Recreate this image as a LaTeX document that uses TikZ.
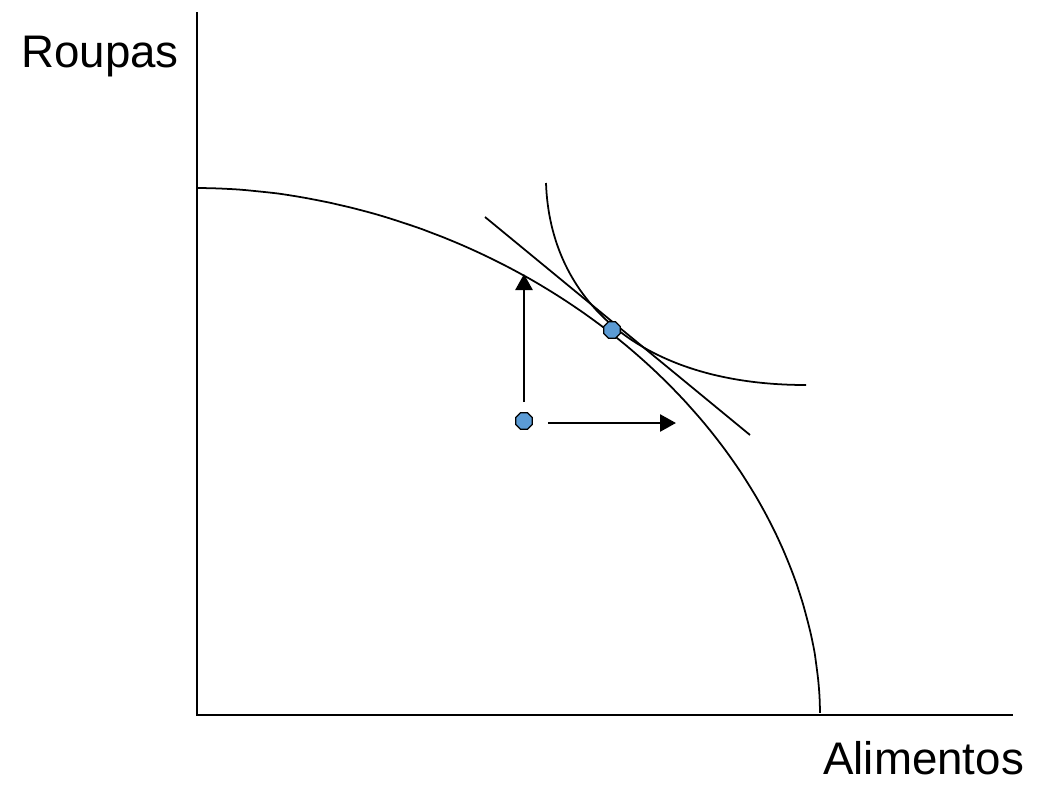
\documentclass[tikz,border=0pt]{standalone}
\usepackage{fontspec}
\setmainfont{Liberation Sans}
\usetikzlibrary{shapes.geometric,arrows.meta}
\definecolor{dotblue}{RGB}{91,155,213}

\begin{document}
\begin{tikzpicture}[x=0.02cm,y=-0.02cm,
  curve/.style={line width=1pt},
  arr/.style={line width=1.5pt,-{Triangle[length=0.32cm,width=0.34cm]}},
  dot/.style={regular polygon,regular polygon sides=8,draw,line width=0.7pt,fill=dotblue,minimum size=0.36cm,inner sep=0pt},
  lbl/.style={font=\fontsize{26}{31}\selectfont,inner sep=0pt,anchor=base west}]
\useasboundingbox (0,0) rectangle (1037,788);
% axes
\coordinate (o) at (197,715);
\coordinate (ytop) at (197,12);
\coordinate (xend) at (1013,715);
\draw[curve] (ytop) -- (o) -- (xend);
\node[lbl] (roupas) at (21,67) {Roupas};
\node[lbl] (alim) at (823,774) {Alimentos};
% fronteira, tangente e curva de indiferenca
\draw[curve] plot[domain=89.9:0.3,samples=90,smooth] ({197+623*pow(cos(\x),1.05)},{715-527*pow(sin(\x),1.05)});
\draw[curve] (485,217) -- (750,435);
\draw[curve] (546,183) .. controls (550,300) and (640,385) .. (806,385);
% pontos e setas
\node[dot] (e) at (612,330) {};
\node[dot] (a) at (524,421) {};
\coordinate (up) at (524,274);
\coordinate (right) at (676,423);
\draw[arr,shorten <=0.2cm] (a) -- (up);
\draw[arr,shorten <=0.3cm] (a.east |- right) -- (right);
\end{tikzpicture}
\end{document}
